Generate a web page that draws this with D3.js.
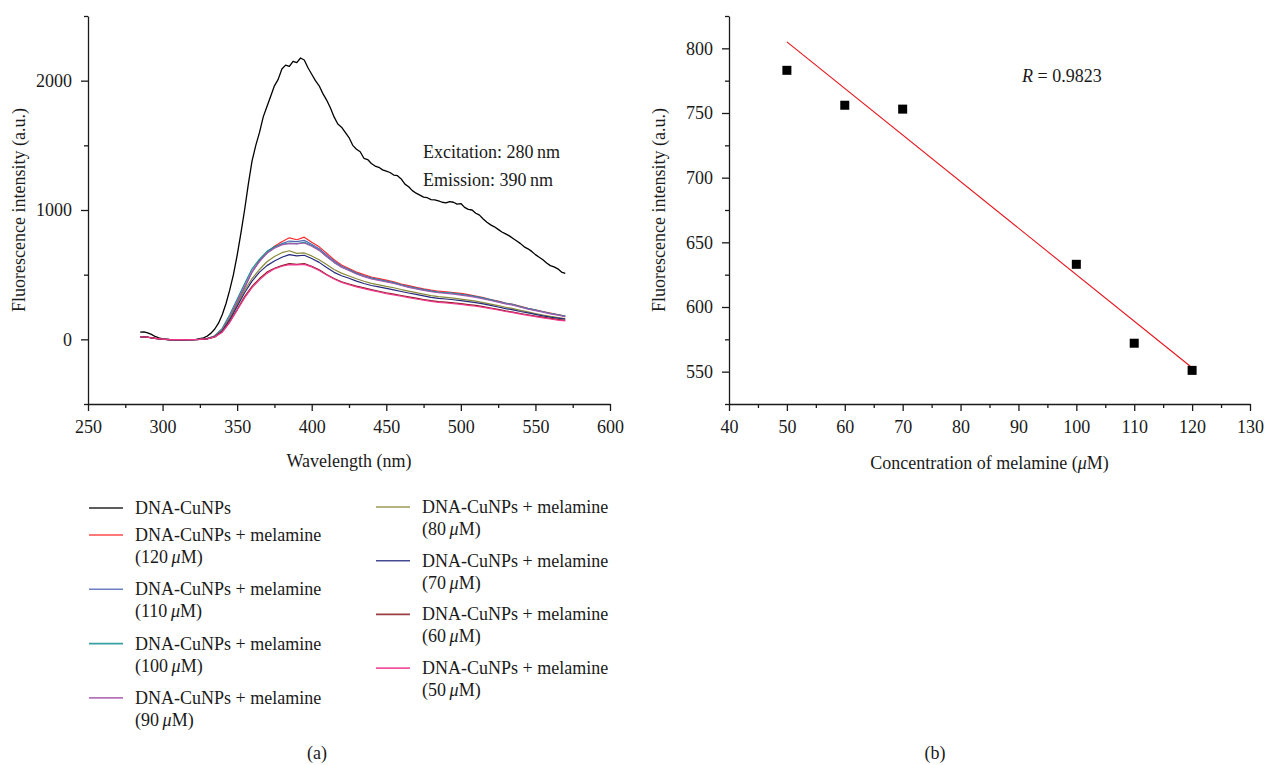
<!DOCTYPE html>
<html>
<head>
<meta charset="utf-8">
<script src="https://cdn.jsdelivr.net/npm/d3@7"></script>
<style>
  html, body { margin: 0; padding: 0; background: #fff; }
  svg text { font-family: "Liberation Serif", "Times New Roman", serif; fill: #1a1a1a; }
</style>
</head>
<body>
<svg id="fig" width="1266" height="765"></svg>
<script>
// ---------- Panel (a): fluorescence emission spectra ----------
const wavelengths = [285,290,295,300,305,310,315,320,325,330,335,340,345,350,355,360,365,370,375,380,
  385,390,395,400,405,410,415,420,425,430,435,440,445,450,455,460,465,470,475,480,
  485,490,495,500,505,510,515,520,525,530,535,540,545,550,555,560,565,570];

// DNA-CuNPs alone, sampled every 2.5 nm
const spectrumBare = [
  [285,55],[287.5,58],[290,50],[292.5,38],[295,22],[297.5,12],[300,4],[302.5,-2],[305,-4],[307.5,-5],
  [310,-5],[312.5,-5],[315,-5],[317.5,-4],[320,-3],[322.5,0],[325,5],[327.5,12],[330,25],[332.5,48],
  [335,80],[337.5,125],[340,190],[342.5,275],[345,380],[347.5,500],[350,650],[352.5,820],[355,1000],[357.5,1200],
  [360,1380],[362.5,1500],[365,1600],[367.5,1720],[370,1800],[372.5,1880],[375,1960],[377.5,2010],[380,2090],[382.5,2120],
  [385,2110],[387.5,2150],[390,2140],[392.5,2175],[395,2160],[397.5,2100],[400,2050],[402.5,2000],[405,1960],[407.5,1900],
  [410,1850],[412.5,1790],[415,1720],[417.5,1665],[420,1640],[422.5,1600],[425,1560],[427.5,1500],[430,1470],[432.5,1450],
  [435,1400],[437.5,1390],[440,1360],[442.5,1340],[445,1330],[447.5,1310],[450,1300],[452.5,1290],[455,1270],[457.5,1265],
  [460,1240],[462.5,1200],[465,1180],[467.5,1150],[470,1130],[472.5,1115],[475,1100],[477.5,1095],[480,1080],[482.5,1078],
  [485,1070],[487.5,1060],[490,1055],[492.5,1065],[495,1060],[497.5,1045],[500,1050],[502.5,1020],[505,1005],[507.5,1000],
  [510,975],[512.5,960],[515,930],[517.5,905],[520,885],[522.5,870],[525,850],[527.5,830],[530,815],[532.5,800],
  [535,780],[537.5,760],[540,740],[542.5,715],[545,700],[547.5,680],[550,655],[552.5,635],[555,615],[557.5,590],
  [560,570],[562.5,560],[565,545],[567.5,520],[570,510]
];

const spectrum120 = [22,18,9,2,-2,-3,-3,-2,0,5, 22,70,160,280,400,520,610,670,720,755,
  785,770,790,750,715,665,615,575,548,520, 500,482,470,458,445,428,415,402,390,380,
  372,368,362,355,345,335,322,308,295,280, 270,255,240,228,215,203,192,180];
const spectrum110 = [20,16,8,2,-2,-3,-3,-2,0,5, 22,72,165,290,400,520,605,665,710,740,
  760,755,765,735,700,650,605,565,540,512, 492,475,462,450,438,422,408,396,384,374,
  366,362,356,348,340,330,318,305,292,278, 268,252,238,226,213,200,190,178];
const spectrum100 = [20,16,8,2,-2,-3,-3,-2,0,6, 28,85,190,310,430,545,620,680,715,735,
  745,740,750,725,690,640,595,560,535,508, 488,472,460,448,436,420,406,394,382,372,
  364,360,355,347,339,330,318,305,292,278, 268,252,238,226,213,200,190,180];
const spectrum90 = [20,16,8,2,-2,-3,-3,-2,0,5, 24,76,175,295,410,525,600,668,705,730,
  740,738,745,720,688,640,595,558,532,505, 485,468,456,444,432,416,402,390,378,368,
  360,355,350,342,334,325,313,300,288,274, 264,248,234,222,210,197,187,175];
const spectrum80 = [20,16,8,2,-2,-3,-3,-2,0,5, 22,70,160,270,380,470,540,600,640,670,
  685,665,668,645,615,578,540,512,490,468, 449,433,421,409,399,385,373,361,349,338,
  330,325,319,311,303,295,284,272,260,248, 237,224,212,200,188,177,168,160];
const spectrum70 = [20,16,8,2,-2,-3,-3,-2,0,5, 20,65,150,255,360,450,520,570,605,635,
  655,645,650,625,595,555,518,492,472,450, 432,416,405,394,382,370,358,347,336,325,
  316,312,306,300,292,284,274,262,250,238, 228,215,204,193,182,172,164,156];
const spectrum60 = [20,16,8,2,-2,-3,-3,-2,0,4, 18,58,135,230,330,410,470,520,550,570,
  585,580,585,565,538,502,470,445,428,412, 398,384,372,360,350,339,328,318,308,299,
  292,287,282,276,269,262,253,242,232,220, 211,200,190,180,171,162,154,147];
const spectrum50 = [20,16,8,2,-2,-3,-3,-2,0,4, 18,55,130,225,320,400,460,510,545,565,
  578,575,580,560,532,498,466,440,422,406, 392,378,366,354,344,333,322,312,302,293,
  286,281,276,270,263,256,247,237,227,215, 206,195,185,175,166,157,149,142];

const melamineLevels = [120,110,100,90,80,70,60,50];
const melamineSpectra = [spectrum120, spectrum110, spectrum100, spectrum90, spectrum80, spectrum70, spectrum60, spectrum50];
const seriesColors = ["#000000","#ff2a2a","#5468b8","#14908f","#a85ab0","#8a8a3a","#262a7c","#8a1c22","#f0368e"];

const spectraXTicks = [250,300,350,400,450,500,550,600];
const spectraXMinor = [275,325,375,425,475,525,575];
const spectraYTicks = [0,1000,2000];
const spectraYMinor = [-500,500,1500,2500];

// ---------- Panel (b): intensity vs. melamine concentration ----------
const concentrations = [50,60,70,100,110,120];
const intensities = [783,756,753,633,572,551];
const fitX = [50,120];
const fitY = [805,553];
const fitLabel = "0.9823";

const concXTicks = [40,50,60,70,80,90,100,110,120,130];
const concXMinor = [45,55,65,75,85,95,105,115,125];
const concYTicks = [550,600,650,700,750,800];
const concYMinor = [525,575,625,675,725,775,825];

// ---------- drawing ----------
const svg = d3.select("#fig");
const FS = 18;
const axisColor = "#1a1a1a";

function styleAxis(g) {
  g.selectAll("path.domain").attr("stroke", axisColor).attr("stroke-width", 1.3);
  g.selectAll(".tick line").attr("stroke", axisColor).attr("stroke-width", 1.3);
  g.selectAll(".tick text").attr("font-size", FS).attr("fill", "#1a1a1a")
    .attr("font-family", "Liberation Serif, Times New Roman, serif");
}

function drawAxes(x, y, xt, xm, yt, ym) {
  const [x0] = x.range();
  const [y0] = y.range();
  // minor ticks
  const gxm = svg.append("g").attr("transform", `translate(0,${y0})`)
    .call(d3.axisBottom(x).tickValues(xm).tickSize(4).tickFormat(() => ""));
  gxm.select("path.domain").remove(); styleAxis(gxm);
  const gym = svg.append("g").attr("transform", `translate(${x0},0)`)
    .call(d3.axisLeft(y).tickValues(ym).tickSize(4).tickFormat(() => ""));
  gym.select("path.domain").remove(); styleAxis(gym);
  // major ticks with labels
  const gx = svg.append("g").attr("transform", `translate(0,${y0})`)
    .call(d3.axisBottom(x).tickValues(xt).tickSize(7).tickSizeOuter(0).tickPadding(9).tickFormat(d3.format("d")));
  styleAxis(gx);
  const gy = svg.append("g").attr("transform", `translate(${x0},0)`)
    .call(d3.axisLeft(y).tickValues(yt).tickSize(7).tickSizeOuter(0).tickPadding(9).tickFormat(d3.format("d")));
  styleAxis(gy);
}

// "(120 μM)"-style text with an italic mu
function addMicroMolar(textSel, prefix, num, suffix) {
  textSel.append("tspan").text(prefix + (num === "" ? "" : num + "\u2009"));
  textSel.append("tspan").attr("font-style", "italic").text("\u03bc");
  textSel.append("tspan").text("M" + suffix);
}

// Panel (a)
const xA = d3.scaleLinear().domain([250, 600]).range([88, 610]);
const yA = d3.scaleLinear().domain([-500, 2500]).range([404, 16]);
drawAxes(xA, yA, spectraXTicks, spectraXMinor, spectraYTicks, spectraYMinor);

const lineA = d3.line().x(d => xA(d[0])).y(d => yA(d[1]));
svg.append("path").datum(spectrumBare)
  .attr("d", lineA).attr("fill", "none").attr("stroke", seriesColors[0]).attr("stroke-width", 1.3)
  .attr("stroke-linejoin", "round");
melamineSpectra.forEach((vals, i) => {
  const pts = wavelengths.map((w, k) => [w, vals[k]]);
  svg.append("path").datum(pts)
    .attr("d", lineA).attr("fill", "none").attr("stroke", seriesColors[i + 1]).attr("stroke-width", 1.2)
    .attr("stroke-linejoin", "round");
});

svg.append("text").attr("x", 423).attr("y", 158).attr("font-size", FS).text("Excitation: 280\u2009nm");
svg.append("text").attr("x", 423).attr("y", 186).attr("font-size", FS).text("Emission: 390\u2009nm");

svg.append("text").attr("x", (xA.range()[0] + xA.range()[1]) / 2).attr("y", 467)
  .attr("text-anchor", "middle").attr("font-size", FS).text("Wavelength (nm)");
svg.append("text").attr("transform", `translate(25,${(yA.range()[0] + yA.range()[1]) / 2}) rotate(-90)`)
  .attr("text-anchor", "middle").attr("font-size", FS).text("Fluorescence intensity (a.u.)");

// legend for panel (a)
const legendEntries = [{ label: "DNA-CuNPs", color: seriesColors[0] }]
  .concat(melamineLevels.map((c, i) => ({ conc: c, color: seriesColors[i + 1] })));
legendEntries.forEach((e, i) => {
  let lx, cy;
  if (i < 5) { lx = 89; cy = i === 0 ? 508 : 535 + (i - 1) * 54.3; }
  else { lx = 376; cy = 507 + (i - 5) * 53.7; }
  svg.append("line").attr("x1", lx).attr("x2", lx + 34).attr("y1", cy).attr("y2", cy)
    .attr("stroke", e.color).attr("stroke-width", 1.6).attr("stroke-opacity", 0.85);
  const tx = lx + 46;
  if (e.label) {
    svg.append("text").attr("x", tx).attr("y", cy + 6).attr("font-size", FS).text(e.label);
  } else {
    svg.append("text").attr("x", tx).attr("y", cy + 6).attr("font-size", FS).text("DNA-CuNPs + melamine");
    const t2 = svg.append("text").attr("x", tx).attr("y", cy + 28).attr("font-size", FS);
    addMicroMolar(t2, "(", e.conc, ")");
  }
});
svg.append("text").attr("x", 317).attr("y", 759).attr("text-anchor", "middle").attr("font-size", FS).text("(a)");

// Panel (b)
const xB = d3.scaleLinear().domain([40, 130]).range([729, 1250]);
const yB = d3.scaleLinear().domain([525, 825]).range([404, 16]);
drawAxes(xB, yB, concXTicks, concXMinor, concYTicks, concYMinor);

svg.append("line")
  .attr("x1", xB(fitX[0])).attr("y1", yB(fitY[0]))
  .attr("x2", xB(fitX[1])).attr("y2", yB(fitY[1]))
  .attr("stroke", "#e8141c").attr("stroke-width", 1.1);

const sq = 9;
svg.selectAll("rect.pt").data(concentrations.map((c, i) => [c, intensities[i]]))
  .enter().append("rect").attr("class", "pt")
  .attr("x", d => xB(d[0]) - sq / 2).attr("y", d => yB(d[1]) - sq / 2)
  .attr("width", sq).attr("height", sq).attr("fill", "#000");

const rText = svg.append("text").attr("x", 1022).attr("y", 82).attr("font-size", FS);
rText.append("tspan").attr("font-style", "italic").text("R");
rText.append("tspan").text(" = " + fitLabel);

const cLab = svg.append("text").attr("x", (xB.range()[0] + xB.range()[1]) / 2).attr("y", 469)
  .attr("text-anchor", "middle").attr("font-size", FS);
addMicroMolar(cLab, "Concentration of melamine (", "", ")");
svg.append("text").attr("transform", `translate(665,${(yB.range()[0] + yB.range()[1]) / 2}) rotate(-90)`)
  .attr("text-anchor", "middle").attr("font-size", FS).text("Fluorescence intensity (a.u.)");
svg.append("text").attr("x", 935).attr("y", 759).attr("text-anchor", "middle").attr("font-size", FS).text("(b)");
</script>
</body>
</html>
